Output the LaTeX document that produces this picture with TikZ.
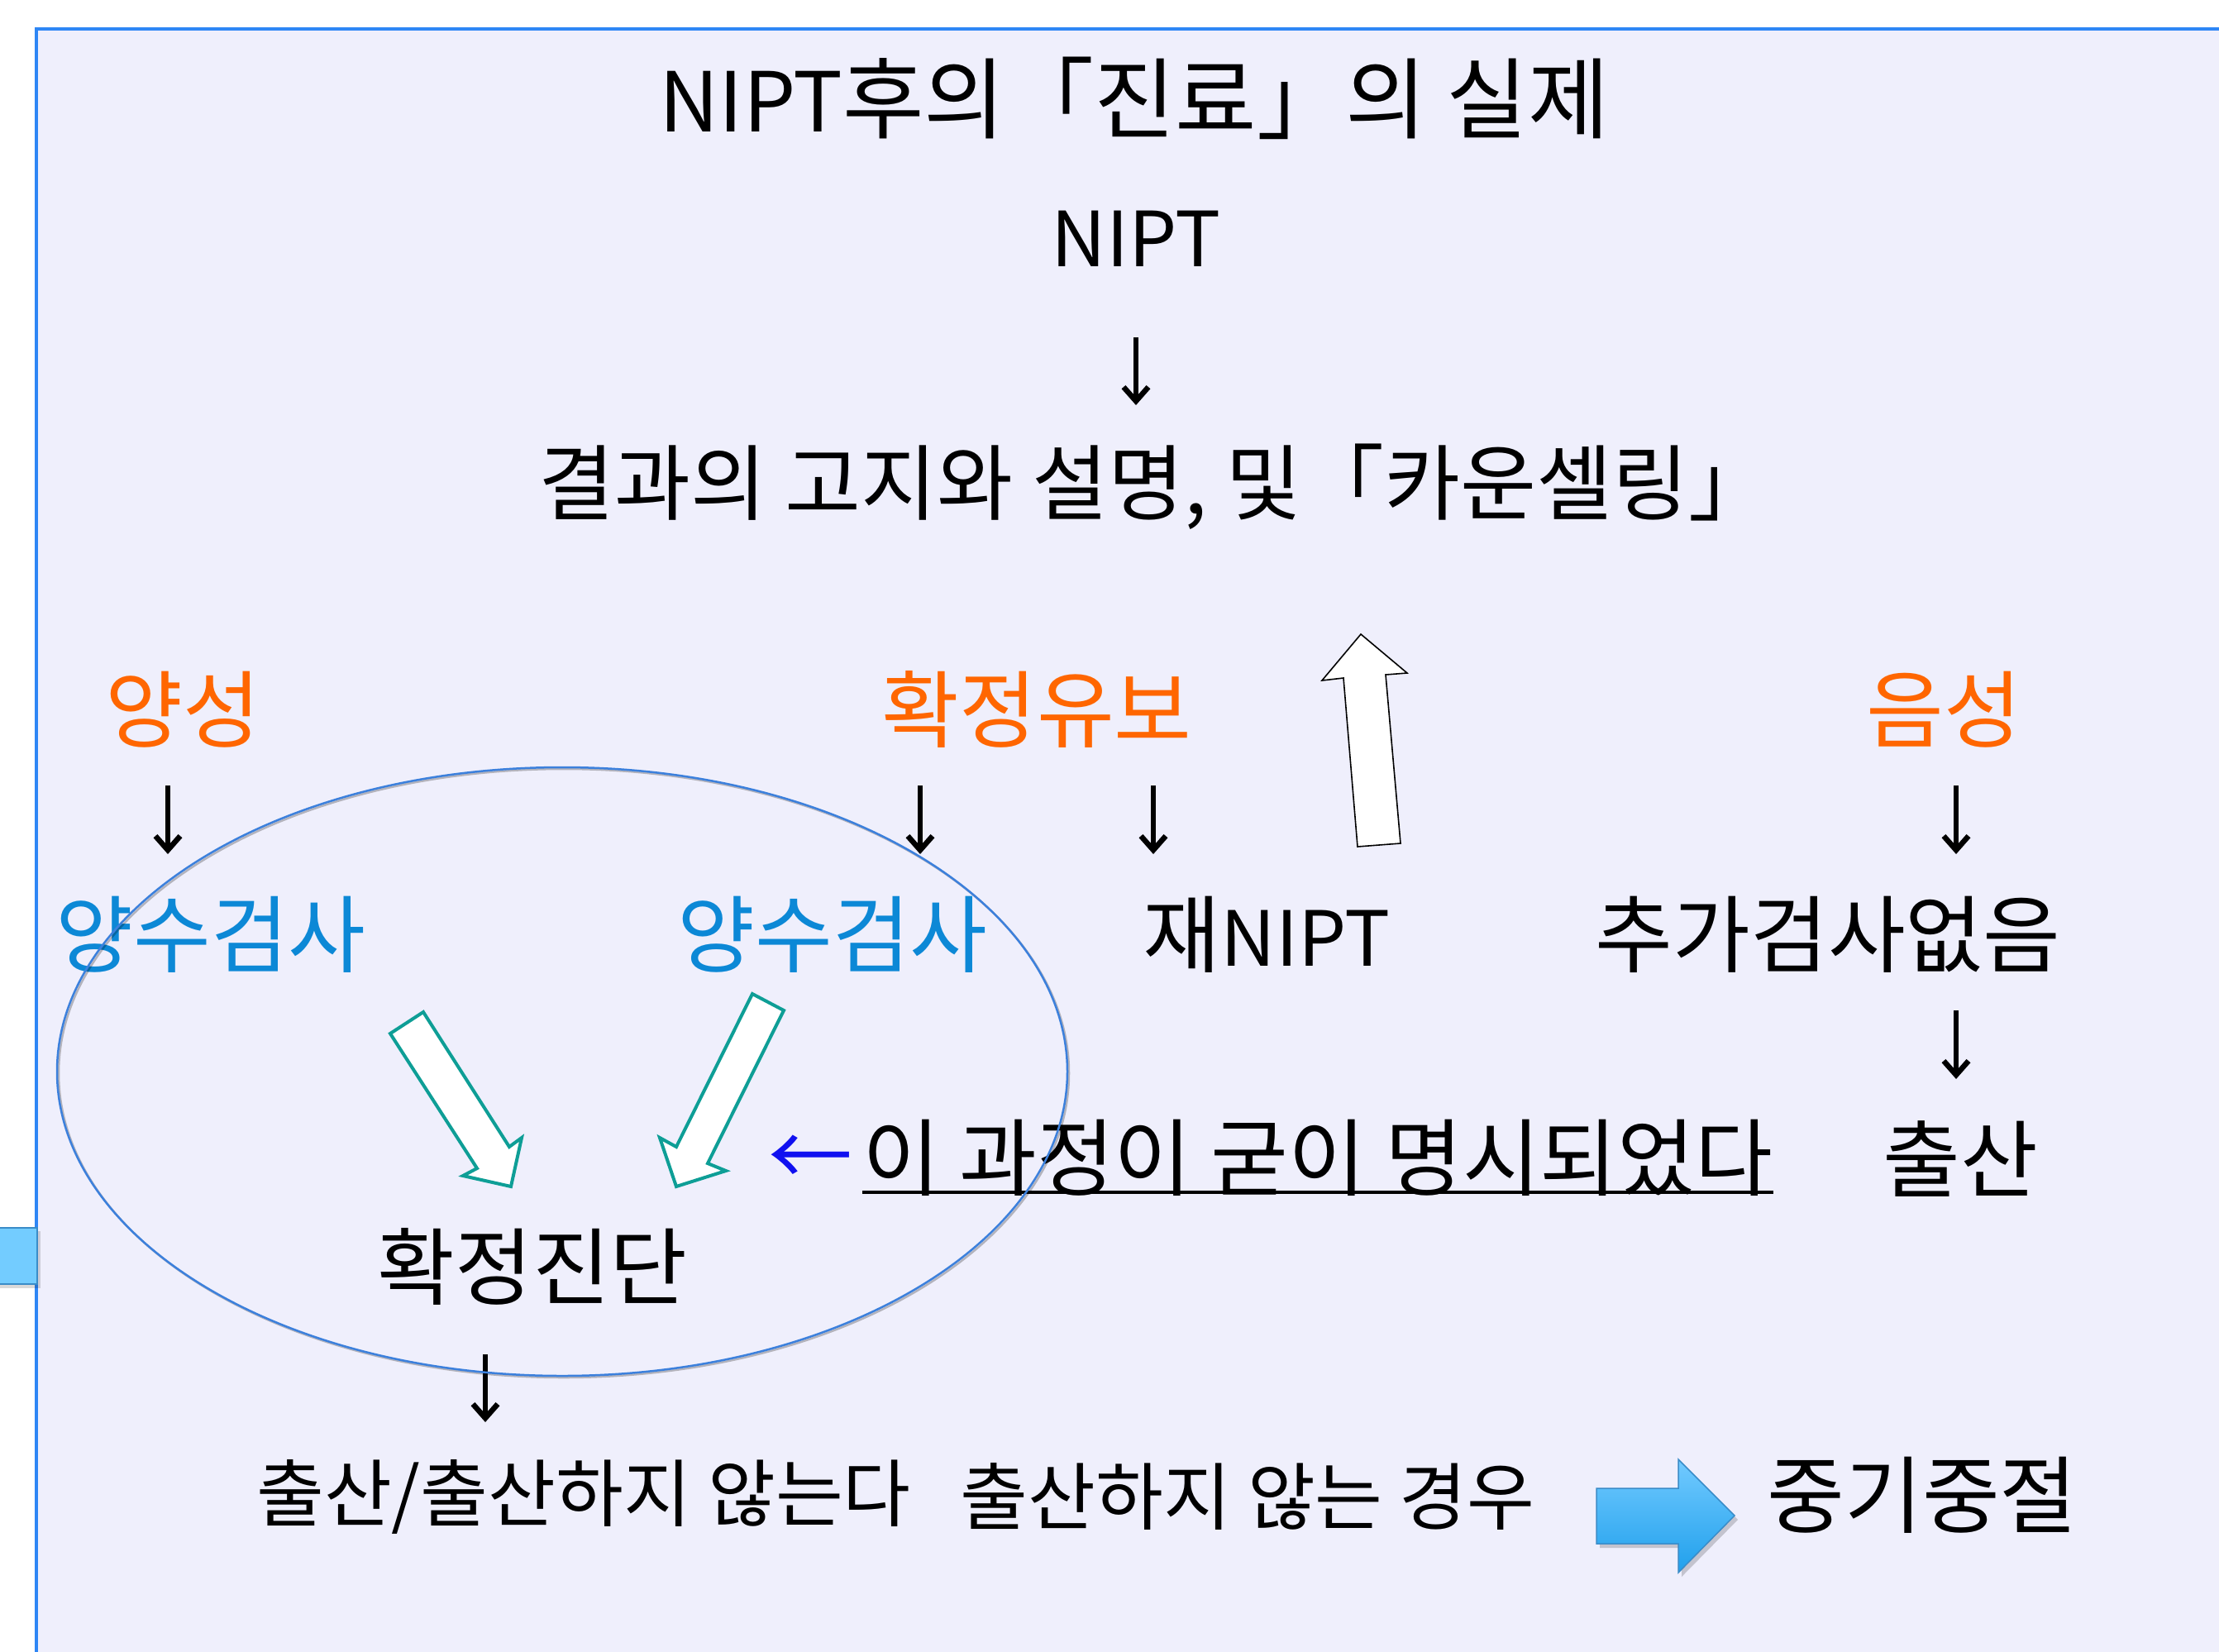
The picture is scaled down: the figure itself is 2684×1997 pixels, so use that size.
\documentclass[tikz,border=0pt]{standalone}
\usepackage{fontspec}
\setmainfont{Noto Sans CJK KR}
\usetikzlibrary{arrows.meta}
\definecolor{bgc}{HTML}{EFEFFC}
\definecolor{framec}{HTML}{2E86F5}
\definecolor{orangec}{HTML}{FF6600}
\definecolor{bluec}{HTML}{0C88D6}
\definecolor{tealc}{HTML}{0E9E96}
\definecolor{ellc}{HTML}{3C80DC}
\definecolor{arrtop}{HTML}{72CAFF}
\definecolor{arrbot}{HTML}{20A0EC}
\definecolor{arredge}{HTML}{3A8CC8}
\definecolor{tabc}{HTML}{73CCFF}
\definecolor{larrc}{HTML}{1010F0}
\newcommand{\lat}{\fontsize{92}{100}\selectfont}
\begin{document}
\begin{tikzpicture}[x=1pt,y=-1pt,
  lbl/.style={inner sep=0pt, font=\fontsize{102}{110}\selectfont},
  lbllat/.style={inner sep=0pt, font=\fontsize{92}{100}\selectfont},
  lblmid/.style={inner sep=0pt, font=\fontsize{100}{108}\selectfont},
  sml/.style={inner sep=0pt, font=\fontsize{89}{97}\selectfont},
  ttl/.style={inner sep=0pt, font=\fontsize{100}{110}\selectfont},
  darr/.style={line width=6.5pt, -{Straight Barb[length=17pt,width=30pt]}},
  hollow/.style={draw=tealc, line width=4pt, fill=white, line join=miter},
  uparr/.style={draw=black, line width=1.6pt, fill=white}
]
\useasboundingbox (0,0) rectangle (2684,1997);
\begin{scope}
\clip (0,0) rectangle (2684,1997);
% frame
\fill[white] (0,0) rectangle (2684,1997);
\draw[fill=bgc, draw=framec, line width=4pt] (44,35) rectangle (2720,2040);
% side tab
\fill[black, opacity=0.15] (0,1489) rectangle (49,1558);
\draw[fill=tabc, draw=arredge, line width=1.5pt] (-5,1485) rectangle (45,1553);
\end{scope}

% texts
\node[ttl] (title) at (1372,119) {NIPT{\fontsize{107}{117}\selectfont 후의「진료」의 실제}};
\node[lbllat] (nipt) at (1374,289) {NIPT};
\node[lblmid] (result) at (1397,589) {결과의 고지와 설명, 및「카운셀링」};
\node[lbl, text=orangec] (pos) at (221,858) {양성};
\node[lbl, text=orangec] (hold) at (1254,858) {확정유보};
\node[lbl, text=orangec] (neg) at (2351,858) {음성};
\node[lbl, text=bluec] (amnio1) at (255,1130) {양수검사};
\node[lbl, text=bluec] (amnio2) at (1007,1130) {양수검사};
\node[lbl] (renipt) at (1532,1130) {재{\lat NIPT}};
\node[lbl] (noexam) at (2211,1130) {추가검사없음};
\node[lbl] (birth) at (2371,1402) {출산};
\node[lbl] (diag) at (644,1532) {확정진단};
\node[lbl, text=larrc, anchor=east] (larr) at (1032,1404) {←};
\node[lbl] (note) at (1594,1400) {이 과정이 굳이 명시되었다};
\coordinate (ul) at (0,1442);
\draw[line width=4pt] (note.west |- ul) -- (note.east |- ul);
\node[sml] (outcome) at (706,1810) {출산/출산하지 않는다};
\node[sml] (notbirth) at (1509,1810) {출산하지 않는 경우};
\node[lbl] (abort) at (2325,1808) {중기중절};

% small down arrows
\coordinate (a1s) at (1374,408);  \coordinate (a1e) at (1374,490);
\coordinate (a2s) at (203,950);   \coordinate (a2e) at (203,1033);
\coordinate (a3s) at (1113,950);  \coordinate (a3e) at (1113,1033);
\coordinate (a4s) at (1395,950);  \coordinate (a4e) at (1395,1033);
\coordinate (a5s) at (2366,950);  \coordinate (a5e) at (2366,1033);
\coordinate (a6s) at (2366,1222); \coordinate (a6e) at (2366,1305);
\coordinate (a7s) at (587,1638);  \coordinate (a7e) at (587,1720);
\foreach \i in {1,...,7} \draw[darr] (a\i s) -- (a\i e);

% hollow teal arrows
\draw[hollow] (472,1250) -- (512,1224) -- (616,1387) -- (631,1376) -- (618,1435) -- (560,1422) -- (577,1413) -- cycle;
\draw[hollow] (910,1202) -- (948,1222) -- (856,1407) -- (878,1416) -- (818,1435) -- (798,1376) -- (818,1387) -- cycle;

% hollow up arrow
\draw[uparr] (1646,767) -- (1702,814) -- (1676,816) -- (1694,1020) -- (1642,1024) -- (1625,820) -- (1599,823) -- cycle;

% ellipse
\draw[black, opacity=0.25, line width=2.5pt] (682,1298) ellipse [x radius=611, y radius=368];
\draw[ellc, line width=2.5pt] (680,1296) ellipse [x radius=611, y radius=368];

% block arrow
\fill[black, opacity=0.18] (1935,1805) -- (2034,1805) -- (2034,1770) -- (2102,1838) -- (2034,1907) -- (2034,1872) -- (1935,1872) -- cycle;
\shade[top color=arrtop, bottom color=arrbot] (1931,1800) -- (2030,1800) -- (2030,1765) -- (2098,1833) -- (2030,1902) -- (2030,1867) -- (1931,1867) -- cycle;
\draw[arredge, line width=1.5pt] (1931,1800) -- (2030,1800) -- (2030,1765) -- (2098,1833) -- (2030,1902) -- (2030,1867) -- (1931,1867) -- cycle;
\end{tikzpicture}
\end{document}
